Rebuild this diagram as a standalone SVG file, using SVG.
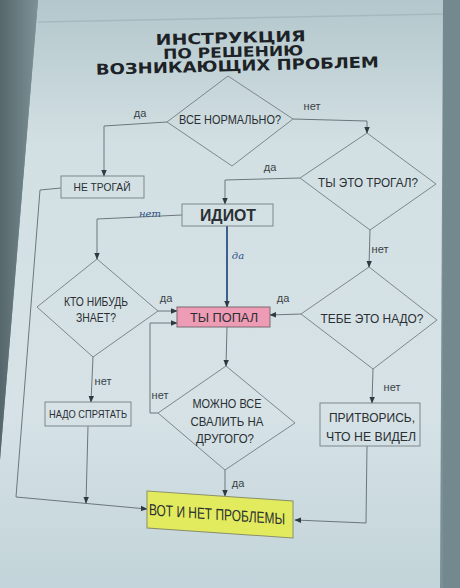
<svg xmlns="http://www.w3.org/2000/svg" width="460" height="588" viewBox="0 0 460 588">
<defs>
<linearGradient id="paper" x1="0" y1="0" x2="0" y2="1">
<stop offset="0" stop-color="#b3c7cc"/>
<stop offset="0.25" stop-color="#d3e0e3"/>
<stop offset="0.7" stop-color="#d6e2e6"/>
<stop offset="1" stop-color="#c2d4d9"/>
</linearGradient>
<linearGradient id="wallL" x1="0" y1="0" x2="1" y2="0">
<stop offset="0" stop-color="#56676b"/>
<stop offset="1" stop-color="#7d9297"/>
</linearGradient>
<marker id="ah" viewBox="0 0 10 10" refX="9" refY="5" markerWidth="7" markerHeight="7" orient="auto" markerUnits="userSpaceOnUse">
<path d="M0,1 L10,5 L0,9 Z" fill="#2e3a40"/>
</marker>
<style>
.ln{fill:none;stroke:#6b777c;stroke-width:1}
.blue{fill:none;stroke:#3b5f8e;stroke-width:2}
.shape{fill:none;stroke:#7c878c;stroke-width:1}
.t{font-family:"Liberation Sans Narrow","Liberation Sans",Arial,sans-serif;fill:#2a2f33;text-anchor:middle}
.lab{font-family:"Liberation Sans Narrow","Liberation Sans",Arial,sans-serif;fill:#3a4246;font-size:11px;text-anchor:middle}
.hand{font-family:"DejaVu Serif","Liberation Serif",serif;font-style:italic;fill:#2f4f86;font-size:10px;text-anchor:middle}
.title{font-family:"DejaVu Sans","Liberation Sans",sans-serif;font-weight:bold;fill:#1d2226;text-anchor:middle}
</style>
</defs>
<!-- background -->
<rect x="0" y="0" width="460" height="588" fill="#7a9097"/>
<polygon points="38,0 443,0 440,588 0,588 0,460" fill="url(#paper)"/>
<polygon points="0,0 38,0 0,460" fill="url(#wallL)"/>
<rect x="443" y="0" width="17" height="588" fill="#73898f"/>
<line x1="38" y1="22" x2="443" y2="14" stroke="#a5b9be" stroke-width="1.5"/>

<!-- title -->
<g id="title" transform="rotate(-1.5 236 50)">
<text class="title" x="231" y="43" font-size="15" textLength="150" lengthAdjust="spacingAndGlyphs">ИНСТРУКЦИЯ</text>
<text class="title" x="233" y="57" font-size="14" textLength="140" lengthAdjust="spacingAndGlyphs">ПО РЕШЕНИЮ</text>
<text class="title" x="237" y="71" font-size="15" textLength="283" lengthAdjust="spacingAndGlyphs">ВОЗНИКАЮЩИХ  ПРОБЛЕМ</text>
</g>

<!-- connectors -->
<g id="connectors">
<polyline class="ln" points="167,122 104,126 104,176" marker-end="url(#ah)"/>
<polyline class="ln" points="293,119 367,121 367,133" marker-end="url(#ah)"/>
<polyline class="ln" points="300,178 225,180 225,204" marker-end="url(#ah)"/>
<polyline class="ln" points="182,215 97,219 97,259" marker-end="url(#ah)"/>
<polyline class="blue" points="227,226 227,307" marker-end="url(#ah)"/>
<polyline class="ln" points="158,311 177,311" marker-end="url(#ah)"/>
<polyline class="ln" points="301,314 270,315" marker-end="url(#ah)"/>
<polyline class="ln" points="370,230 369,267" marker-end="url(#ah)"/>
<polyline class="ln" points="227,327 226,366" marker-end="url(#ah)"/>
<polyline class="ln" points="158,413 150,413 150,323 177,323" marker-end="url(#ah)"/>
<polyline class="ln" points="93,357 91,402" marker-end="url(#ah)"/>
<polyline class="ln" points="373,369 372,403" marker-end="url(#ah)"/>
<polyline class="ln" points="225,470 225,496" marker-end="url(#ah)"/>
<polyline class="ln" points="61,188 40,190 16,497 147,509" marker-end="url(#ah)"/>
<polyline class="ln" points="88,426 86,503" marker-end="url(#ah)"/>
<polyline class="ln" points="367,446 366,523 295,520" marker-end="url(#ah)"/>
<text class="lab" x="140" y="117">да</text>
<text class="lab" x="312" y="110">нет</text>
<text class="lab" x="270" y="171">да</text>
<text class="hand" x="150" y="217">нет</text>
<text class="hand" x="238" y="259">да</text>
<text class="lab" x="166" y="302">да</text>
<text class="lab" x="283" y="302">да</text>
<text class="lab" x="380" y="253">нет</text>
<text class="lab" x="103" y="385">нет</text>
<text class="lab" x="160" y="399">нет</text>
<text class="lab" x="392" y="391">нет</text>
<text class="lab" x="238" y="487">да</text>
</g>

<!-- nodes -->
<g id="n-normal">
<polygon class="shape" points="228,76 293,119 232,166 167,122"/>
<text class="t" x="230" y="124" font-size="13" textLength="102" lengthAdjust="spacingAndGlyphs">ВСЕ НОРМАЛЬНО?</text>
</g>
<g id="n-netrogai">
<rect class="shape" x="61" y="176" width="83" height="22"/>
<text class="t" x="102" y="191" font-size="11.5" textLength="57" lengthAdjust="spacingAndGlyphs">НЕ ТРОГАЙ</text>
</g>
<g id="n-trogal">
<polygon class="shape" points="367,133 436,184 370,230 300,178"/>
<text class="t" x="368" y="187" font-size="13.5" textLength="100" lengthAdjust="spacingAndGlyphs">ТЫ ЭТО ТРОГАЛ?</text>
</g>
<g id="n-idiot">
<rect class="shape" x="182" y="204" width="91" height="22"/>
<text class="t" x="228" y="221" font-size="16" font-weight="bold" textLength="56" lengthAdjust="spacingAndGlyphs">ИДИОТ</text>
</g>
<g id="n-kto">
<polygon class="shape" points="97,259 158,311 93,357 37,307"/>
<text class="t" x="96" y="306" font-size="12" textLength="64" lengthAdjust="spacingAndGlyphs">КТО НИБУДЬ</text>
<text class="t" x="96" y="322" font-size="12" textLength="40" lengthAdjust="spacingAndGlyphs">ЗНАЕТ?</text>
</g>
<g id="n-popal">
<rect x="177" y="307" width="93" height="20" fill="#ee9cb6" stroke="#7b6b70" stroke-width="1"/>
<text class="t" x="224" y="322" font-size="13.5" textLength="68" lengthAdjust="spacingAndGlyphs">ТЫ ПОПАЛ</text>
</g>
<g id="n-nado">
<polygon class="shape" points="369,267 437,320 373,369 301,314"/>
<text class="t" x="372" y="323" font-size="13.5" textLength="103" lengthAdjust="spacingAndGlyphs">ТЕБЕ ЭТО НАДО?</text>
</g>
<g id="n-svalit">
<polygon class="shape" points="226,366 295,423 225,470 158,413"/>
<text class="t" x="227" y="408" font-size="13" textLength="69" lengthAdjust="spacingAndGlyphs">МОЖНО ВСЕ</text>
<text class="t" x="227" y="426" font-size="13" textLength="73" lengthAdjust="spacingAndGlyphs">СВАЛИТЬ НА</text>
<text class="t" x="225" y="443" font-size="13" textLength="58" lengthAdjust="spacingAndGlyphs">ДРУГОГО?</text>
</g>
<g id="n-spryatat">
<rect class="shape" x="45" y="402" width="86" height="24"/>
<text class="t" x="88" y="418" font-size="11.5" textLength="78" lengthAdjust="spacingAndGlyphs">НАДО СПРЯТАТЬ</text>
</g>
<g id="n-pritvoris">
<rect class="shape" x="320" y="403" width="100" height="43"/>
<text class="t" x="372" y="422" font-size="13" textLength="86" lengthAdjust="spacingAndGlyphs">ПРИТВОРИСЬ,</text>
<text class="t" x="371" y="441" font-size="13" textLength="90" lengthAdjust="spacingAndGlyphs">ЧТО НЕ ВИДЕЛ</text>
</g>
<g id="n-vot" transform="translate(147,491) skewY(3.9)">
<rect x="0" y="0" width="146" height="37" fill="#e2ea5e" stroke="#8a8f6a" stroke-width="1"/>
<text class="t" x="70" y="24" font-size="16" textLength="136" lengthAdjust="spacingAndGlyphs">ВОТ И НЕТ ПРОБЛЕМЫ</text>
</g>
</svg>
